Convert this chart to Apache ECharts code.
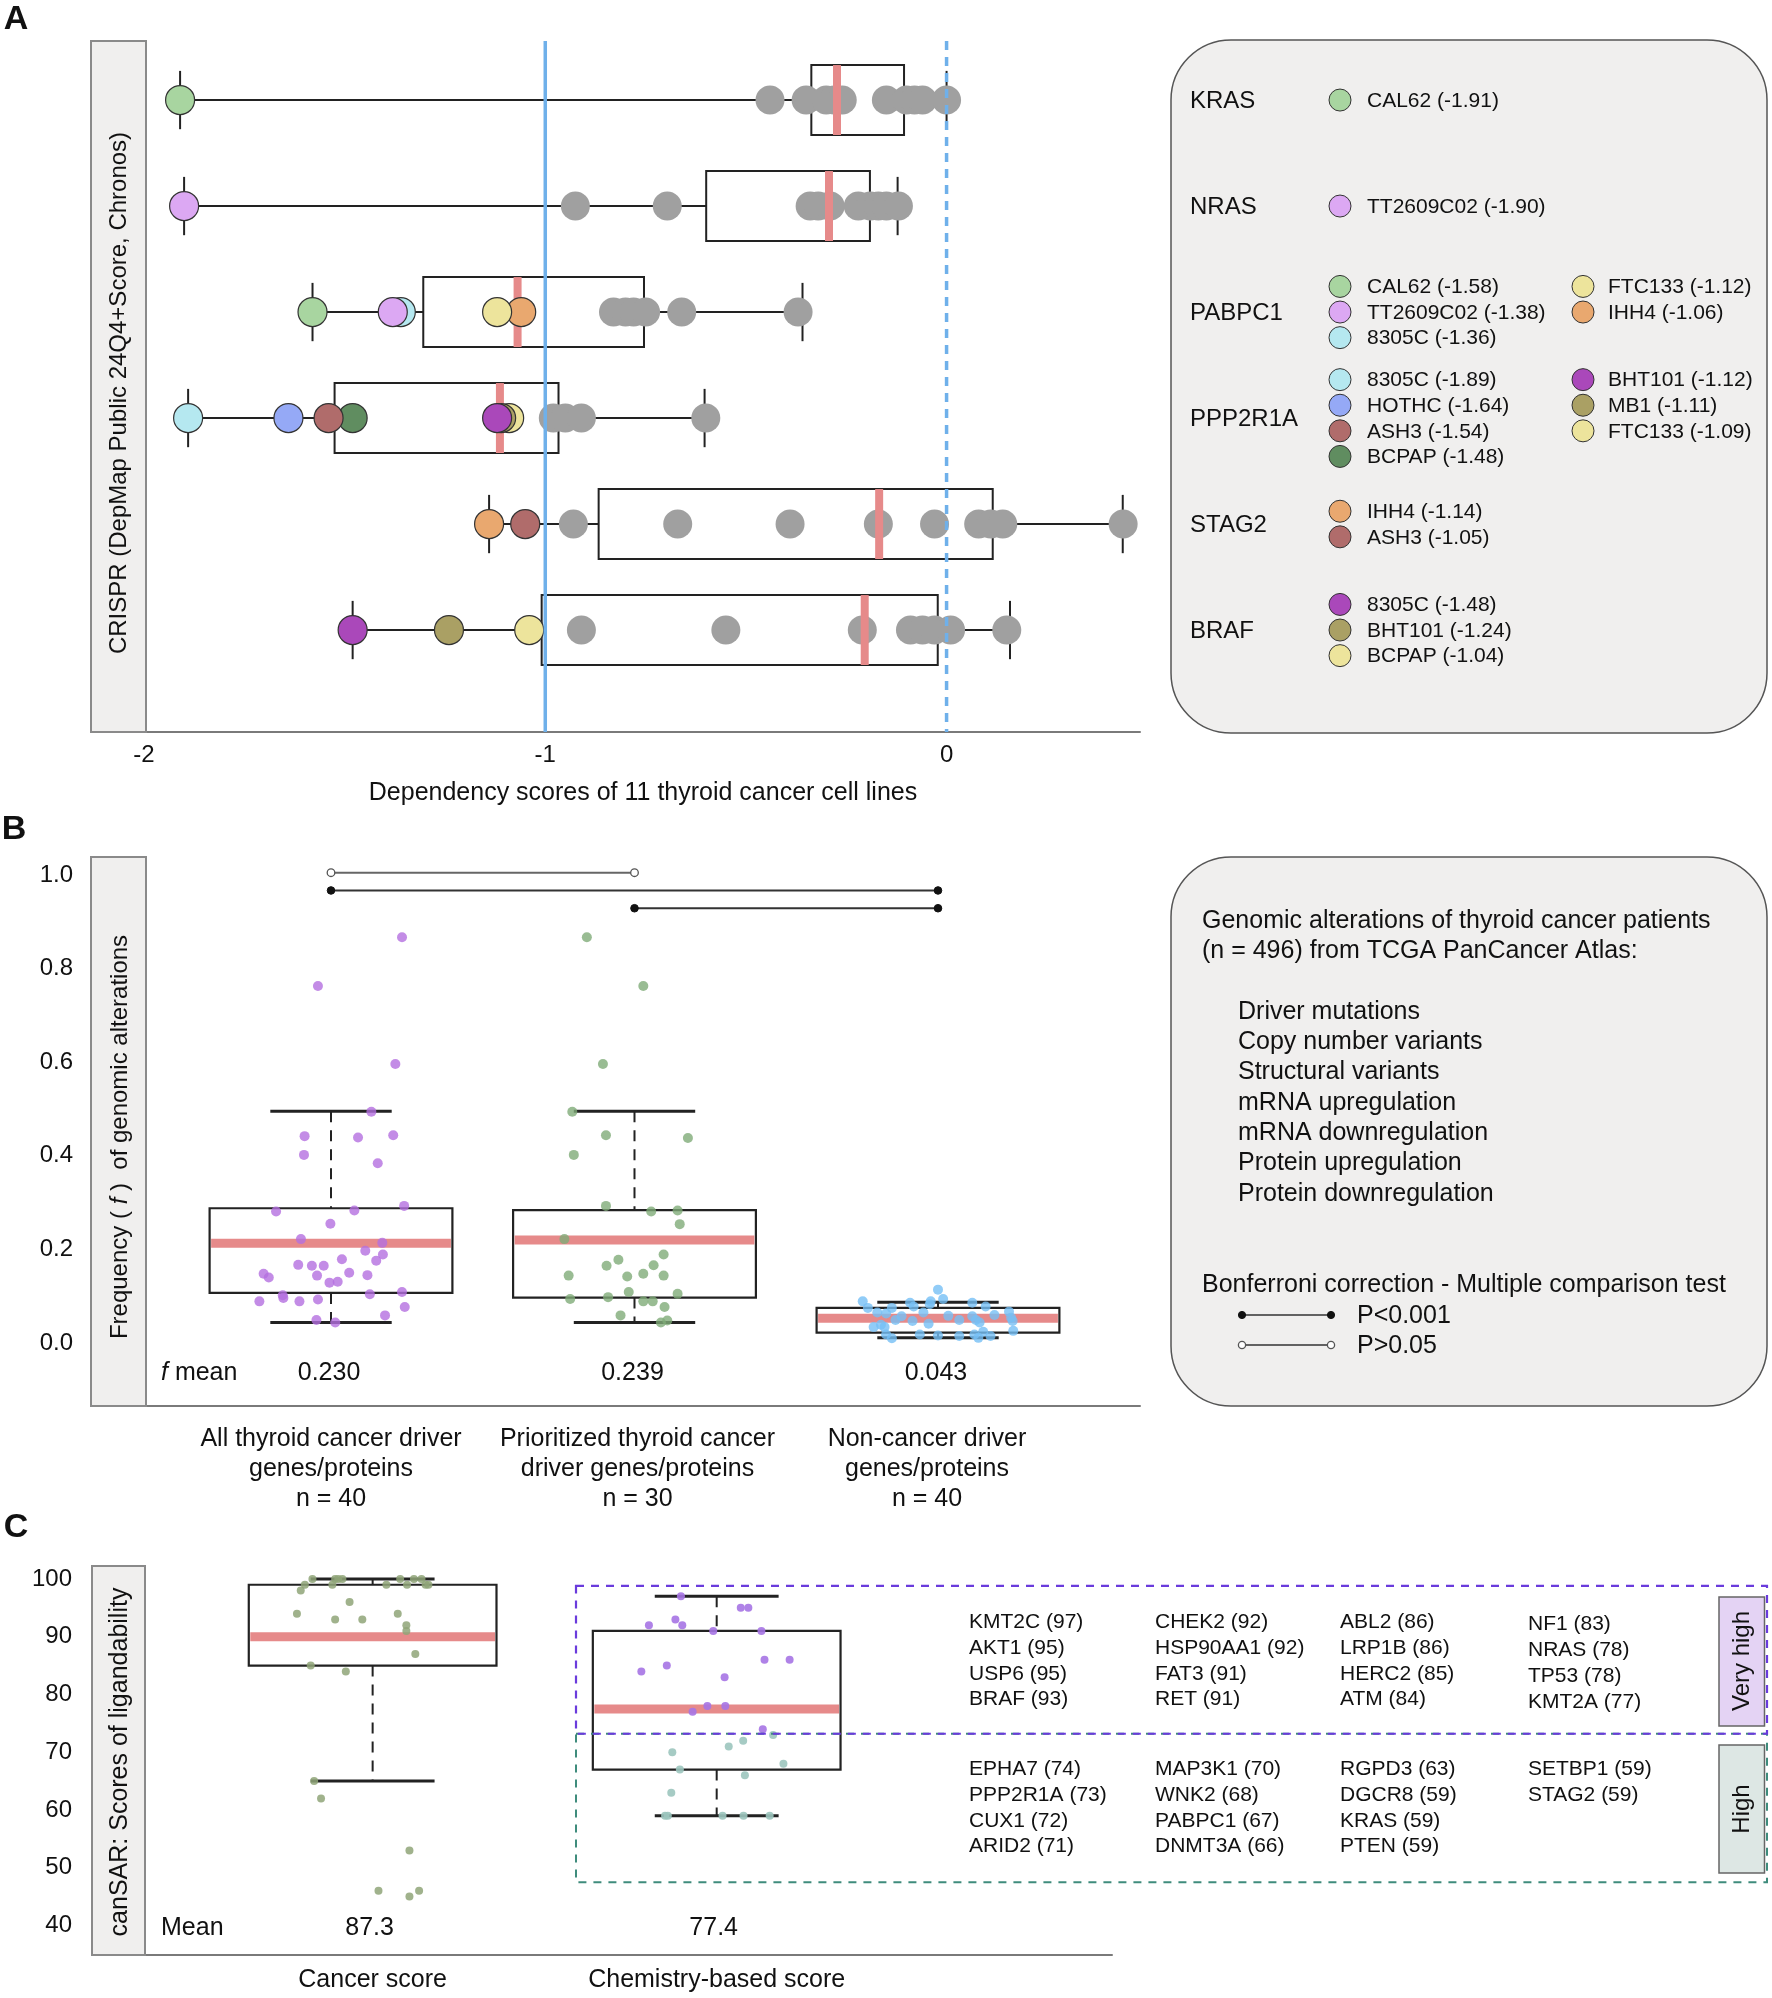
<!DOCTYPE html>
<html><head><meta charset="utf-8">
<script src="https://cdn.jsdelivr.net/npm/echarts@6/dist/echarts.min.js"></script>
<style>html,body{margin:0;padding:0;background:#fff}#c{width:1772px;height:1998px}</style>
</head><body><div id="c"></div><script>
const FONT = '"Liberation Sans", Arial, Helvetica, sans-serif';
const TXT = '#111';

// ---------------- Panel A data ----------------
const genesA = ['KRAS','NRAS','PABPC1','PPP2R1A','STAG2','BRAF'];
const xTicksA = [-2, -1, 0];
// [low whisker, q1, median, q3, high whisker]
const boxA = [
  [-1.91, -0.337, -0.273, -0.106, 0.00],
  [-1.90, -0.599, -0.293, -0.191, -0.122],
  [-1.58, -1.304, -1.069, -0.754, -0.359],
  [-1.89, -1.525, -1.113, -0.967, -0.603],
  [-1.14, -0.867, -0.168, 0.115, 0.439],
  [-1.48, -1.009, -0.204, -0.022, 0.158]
];
const greyA = [
  [-0.44, -0.35, -0.30, -0.28, -0.26, -0.15, -0.10, -0.08, -0.06, 0.00],
  [-0.925, -0.696, -0.34, -0.32, -0.29, -0.22, -0.19, -0.17, -0.15, -0.12],
  [-0.83, -0.80, -0.78, -0.75, -0.66, -0.37],
  [-0.98, -0.95, -0.91, -0.60],
  [-0.93, -0.67, -0.39, -0.17, -0.03, 0.08, 0.11, 0.14, 0.44],
  [-0.91, -0.55, -0.21, -0.09, -0.06, -0.03, 0.01, 0.15]
];
const highlightA = [
  [['CAL62', -1.91]],
  [['TT2609C02', -1.90]],
  [['CAL62', -1.58], ['TT2609C02', -1.38], ['8305C', -1.36], ['FTC133', -1.12], ['IHH4', -1.06]],
  [['8305C', -1.89], ['HOTHC', -1.64], ['ASH3', -1.54], ['BCPAP', -1.48], ['BHT101', -1.12], ['MB1', -1.11], ['FTC133', -1.09]],
  [['IHH4', -1.14], ['ASH3', -1.05]],
  [['8305C', -1.48], ['BHT101', -1.24], ['BCPAP', -1.04]]
];
const refLinesA = [[-1, 'solid'], [0, 'dashed']];
// styles (colours of highlighted cell lines)
const hlColorsA = [
  ['#a8d5a0'],
  ['#dca8f3'],
  ['#a8d5a0', '#dca8f3', '#b5e8f0', '#ede49c', '#e9a86f'],
  ['#b5e8f0', '#95a9f6', '#b06c6b', '#608d60', '#aa48ba', '#aaa064', '#ede49c'],
  ['#e9a86f', '#b06c6b'],
  ['#aa48ba', '#aaa064', '#ede49c']
];

// ---------------- Panel B data ----------------
const catsB = ['All thyroid cancer driver\ngenes/proteins\nn = 40',
               'Prioritized thyroid cancer\ndriver genes/proteins\nn = 30',
               'Non-cancer driver\ngenes/proteins\nn = 40'];
const yTicksB = [0, 0.2, 0.4, 0.6, 0.8, 1.0];
const boxB = [
  [0.044, 0.107, 0.213, 0.288, 0.495],
  [0.044, 0.097, 0.220, 0.284, 0.495],
  [0.011, 0.022, 0.053, 0.075, 0.087]
];
const meanB = ['0.230', '0.239', '0.043'];
// [jitter, frequency]
const ptsB1 = [[0.234,0.867],[-0.043,0.763],[0.212,0.596],[0.133,0.494],[-0.087,0.442],[0.089,0.439],[0.205,0.444],[-0.089,0.402],[0.154,0.384],[-0.181,0.281],[0.077,0.283],[0.241,0.293],[-0.002,0.255],[-0.099,0.222],[0.169,0.214],[0.171,0.189],[0.113,0.197],[0.149,0.176],[0.036,0.179],[-0.108,0.167],[-0.063,0.165],[-0.024,0.165],[-0.222,0.148],[-0.205,0.140],[-0.046,0.144],[0.060,0.150],[0.120,0.145],[-0.005,0.129],[0.022,0.131],[0.234,0.109],[0.128,0.104],[-0.159,0.102],[-0.157,0.096],[-0.236,0.089],[-0.104,0.089],[-0.043,0.093],[0.243,0.077],[0.178,0.059],[-0.048,0.049],[0.014,0.044]];
const ptsB2 = [[-0.157,0.867],[0.029,0.763],[-0.104,0.596],[-0.205,0.494],[-0.094,0.444],[0.176,0.438],[-0.200,0.402],[-0.094,0.293],[0.055,0.281],[0.142,0.283],[0.149,0.254],[-0.231,0.222],[0.096,0.189],[-0.053,0.178],[-0.092,0.165],[0.063,0.166],[-0.217,0.144],[-0.024,0.142],[0.029,0.148],[0.096,0.144],[-0.019,0.109],[0.142,0.105],[-0.212,0.094],[-0.087,0.098],[0.029,0.089],[0.060,0.089],[0.099,0.077],[-0.046,0.059],[0.087,0.044],[0.108,0.048]];
const ptsB3 = [[0.000,0.114],[-0.248,0.089],[-0.092,0.086],[-0.024,0.089],[0.017,0.094],[0.113,0.086],[0.157,0.078],[-0.231,0.075],[-0.152,0.075],[-0.080,0.078],[-0.027,0.083],[-0.200,0.065],[-0.171,0.063],[-0.048,0.065],[0.234,0.067],[0.113,0.057],[0.125,0.049],[-0.140,0.049],[-0.084,0.047],[0.070,0.049],[0.241,0.054],[0.137,0.044],[0.246,0.047],[-0.031,0.041],[-0.188,0.039],[-0.212,0.034],[-0.176,0.034],[0.248,0.026],[-0.171,0.018],[-0.152,0.010],[-0.060,0.018],[0.000,0.016],[0.070,0.015],[0.120,0.018],[0.133,0.011],[0.173,0.015],[0.149,0.024],[-0.120,0.057],[0.034,0.058],[0.186,0.060]];
// [from group, to group, height, significant(1)/not(0)]
const bracketsB = [[1, 2, 1.005, 0], [1, 3, 0.967, 1], [2, 3, 0.929, 1]];
const alterationTypes = ['Driver mutations','Copy number variants','Structural variants','mRNA upregulation','mRNA downregulation','Protein upregulation','Protein downregulation'];

// ---------------- Panel C data ----------------
const catsC = ['Cancer score', 'Chemistry-based score'];
const yTicksC = [40, 50, 60, 70, 80, 90, 100];
const boxC = [
  [65, 85, 90, 99, 100],
  [59, 67, 77.5, 91, 97]
];
const meanC = ['87.3', '77.4'];
const cancerScores = [100,100,100,100,100,100,100, 99,99,99,99,99,99, 98, 96, 94,94, 93,93, 92, 91, 87, 85, 84, 65, 62, 53, 46,46, 45];
const cancerJitter = [-0.175,-0.109,-0.100,-0.088,0.080,0.120,0.142, -0.197,-0.117,0.040,0.100,0.154,0.162, -0.209, -0.067, -0.220,0.073, -0.109,-0.030, 0.098, 0.098, 0.124, -0.180, -0.078, -0.170, -0.150, 0.107, 0.017,0.135, 0.107];
const chemGenes = [['KMT2C',97],['AKT1',95],['USP6',95],['BRAF',93],['CHEK2',92],['HSP90AA1',92],['FAT3',91],['RET',91],
  ['ABL2',86],['LRP1B',86],['HERC2',85],['ATM',84],['NF1',83],['NRAS',78],['TP53',78],['KMT2A',77],
  ['EPHA7',74],['PPP2R1A',73],['CUX1',72],['ARID2',71],['MAP3K1',70],['WNK2',68],['PABPC1',67],['DNMT3A',66],
  ['RGPD3',63],['DGCR8',59],['KRAS',59],['PTEN',59],['SETBP1',59],['STAG2',59]];
const chemJitter = [-0.104,0.070,0.092,-0.120,-0.197,-0.100,-0.010,0.130,0.139,0.212,-0.145,-0.219,0.023,-0.027,0.025,-0.070,
  0.134,0.164,0.077,0.035,-0.129,0.194,-0.107,0.082,-0.132,-0.150,-0.142,0.017,0.078,0.154];
const veryHighCount = 16;
const veryHighRange = [73.2, 98.8];
const highRange = [47.5, 73.2];

// ---------------- chart ----------------
const chart = echarts.init(document.getElementById('c'));

function boxAItem(params, api) {
  const r = api.value(0);
  const lo = api.coord([api.value(1), r]), q1 = api.coord([api.value(2), r]);
  const q3 = api.coord([api.value(4), r]), hi = api.coord([api.value(5), r]);
  const bh = Math.abs(api.size([0, 0.66])[1]), ch = Math.abs(api.size([0, 0.55])[1]);
  const y = lo[1], st = {stroke: '#222', lineWidth: 2};
  return {type: 'group', children: [
    {type: 'line', shape: {x1: lo[0], y1: y, x2: hi[0], y2: y}, style: st},
    {type: 'line', shape: {x1: lo[0], y1: y - ch / 2, x2: lo[0], y2: y + ch / 2}, style: st},
    {type: 'line', shape: {x1: hi[0], y1: y - ch / 2, x2: hi[0], y2: y + ch / 2}, style: st},
    {type: 'rect', shape: {x: q1[0], y: y - bh / 2, width: q3[0] - q1[0], height: bh}, style: {fill: '#fff', stroke: '#222', lineWidth: 2}}
  ]};
}
function medAItem(params, api) {
  const r = api.value(0);
  const m = api.coord([api.value(3), r]);
  const bh = Math.abs(api.size([0, 0.66])[1]);
  return {type: 'rect', shape: {x: m[0] - 4, y: m[1] - bh / 2, width: 8, height: bh}, style: {fill: '#e68a8a'}};
}
function boxVItem(wf, cf) {
  return function (params, api) {
    const c = api.value(0);
    const lo = api.coord([c, api.value(1)]), q1 = api.coord([c, api.value(2)]);
    const q3 = api.coord([c, api.value(4)]), hi = api.coord([c, api.value(5)]);
    const bw = api.size([wf, 0])[0], cw = api.size([cf, 0])[0];
    const x = lo[0];
    const dash = {stroke: '#222', lineWidth: 2, lineDash: [11, 8]};
    const cap = {stroke: '#222', lineWidth: 3};
    return {type: 'group', children: [
      {type: 'line', shape: {x1: x, y1: hi[1], x2: x, y2: q3[1]}, style: dash},
      {type: 'line', shape: {x1: x, y1: q1[1], x2: x, y2: lo[1]}, style: dash},
      {type: 'line', shape: {x1: x - cw / 2, y1: hi[1], x2: x + cw / 2, y2: hi[1]}, style: cap},
      {type: 'line', shape: {x1: x - cw / 2, y1: lo[1], x2: x + cw / 2, y2: lo[1]}, style: cap},
      {type: 'rect', shape: {x: x - bw / 2, y: q3[1], width: bw, height: q1[1] - q3[1]}, style: {fill: '#fff', stroke: '#222', lineWidth: 2.2}}
    ]};
  };
}
function medVItem(wf) {
  return function (params, api) {
    const m = api.coord([api.value(0), api.value(3)]);
    const bw = api.size([wf, 0])[0];
    return {type: 'rect', shape: {x: m[0] - bw / 2 + 1.5, y: m[1] - 4.5, width: bw - 3, height: 9}, style: {fill: '#e68a8a'}};
  };
}

const seriesList = [];
// Panel A
seriesList.push({type: 'custom', xAxisIndex: 0, yAxisIndex: 0, z: 2, silent: true,
  data: boxA.map((b, i) => [i, ...b]), encode: {x: [1, 2, 3, 4, 5], y: 0}, renderItem: boxAItem});
seriesList.push({type: 'scatter', xAxisIndex: 0, yAxisIndex: 0, z: 3, silent: true, symbolSize: 29,
  itemStyle: {color: '#a0a0a0', opacity: 1},
  data: greyA.flatMap((arr, i) => arr.map(v => [v, i]))});
seriesList.push({type: 'custom', xAxisIndex: 0, yAxisIndex: 0, z: 4, silent: true,
  data: boxA.map((b, i) => [i, ...b]), encode: {x: [1, 2, 3, 4, 5], y: 0}, renderItem: medAItem});
seriesList.push({type: 'scatter', xAxisIndex: 0, yAxisIndex: 0, z: 5, silent: true, symbolSize: 29,
  data: highlightA.flatMap((arr, i) => arr.map((p, k) => ({value: [p[1], i], itemStyle: {color: hlColorsA[i][k], borderColor: '#333', borderWidth: 1.2, opacity: 1}})).reverse())});
seriesList.push({type: 'custom', xAxisIndex: 0, yAxisIndex: 0, z: 6, silent: true,
  data: refLinesA.map(d => [d[0], d[1] === 'dashed' ? 1 : 0]), encode: {x: 0},
  renderItem: function (params, api) {
    const cs = params.coordSys;
    const x = api.coord([api.value(0), 0])[0];
    return {type: 'line', shape: {x1: x, y1: cs.y, x2: x, y2: cs.y + cs.height},
      style: {stroke: '#6fb0ea', lineWidth: 3.5, lineDash: api.value(1) ? [9, 7] : null}};
  }});
// Panel B
seriesList.push({type: 'custom', xAxisIndex: 1, yAxisIndex: 1, z: 2, silent: true,
  data: boxB.map((b, i) => [i + 1, ...b]), encode: {x: 0, y: [1, 2, 3, 4, 5]}, renderItem: boxVItem(0.8, 0.4)});
seriesList.push({type: 'custom', xAxisIndex: 1, yAxisIndex: 1, z: 3, silent: true,
  data: boxB.map((b, i) => [i + 1, ...b]), encode: {x: 0, y: [1, 2, 3, 4, 5]}, renderItem: medVItem(0.8)});
[[ptsB1, '#b46fe0'], [ptsB2, '#7fab78'], [ptsB3, '#76bff5']].forEach((p, gi) => {
  seriesList.push({type: 'scatter', xAxisIndex: 1, yAxisIndex: 1, z: 4, silent: true, symbolSize: 10,
    itemStyle: {color: p[1], opacity: 0.8},
    data: p[0].map(d => [gi + 1 + d[0], d[1]])});
});
seriesList.push({type: 'custom', xAxisIndex: 1, yAxisIndex: 1, z: 4, silent: true,
  data: bracketsB, encode: {x: [0, 1], y: 2},
  renderItem: function (params, api) {
    const a = api.coord([api.value(0), api.value(2)]), b = api.coord([api.value(1), api.value(2)]);
    const filled = api.value(3) === 1;
    const cst = filled ? {fill: '#111', stroke: '#111', lineWidth: 1} : {fill: '#fff', stroke: '#555', lineWidth: 1.3};
    return {type: 'group', children: [
      {type: 'line', shape: {x1: a[0], y1: a[1], x2: b[0], y2: b[1]}, style: {stroke: filled ? '#333' : '#666', lineWidth: 2}},
      {type: 'circle', shape: {cx: a[0], cy: a[1], r: 3.8}, style: cst},
      {type: 'circle', shape: {cx: b[0], cy: b[1], r: 3.8}, style: cst}
    ]};
  }});
// Panel C
seriesList.push({type: 'custom', xAxisIndex: 2, yAxisIndex: 2, z: 2, silent: true,
  data: boxC.map((b, i) => [i + 1, ...b]), encode: {x: 0, y: [1, 2, 3, 4, 5]}, renderItem: boxVItem(0.72, 0.36)});
seriesList.push({type: 'custom', xAxisIndex: 2, yAxisIndex: 2, z: 3, silent: true,
  data: boxC.map((b, i) => [i + 1, ...b]), encode: {x: 0, y: [1, 2, 3, 4, 5]}, renderItem: medVItem(0.72)});
seriesList.push({type: 'scatter', xAxisIndex: 2, yAxisIndex: 2, z: 4, silent: true, symbolSize: 8,
  itemStyle: {color: '#8fa578', opacity: 0.85},
  data: cancerScores.map((v, i) => [1 + cancerJitter[i], v])});
seriesList.push({type: 'scatter', xAxisIndex: 2, yAxisIndex: 2, z: 4, silent: true, symbolSize: 8,
  data: chemGenes.map((g, i) => ({value: [2 + chemJitter[i], g[1]], itemStyle: {color: i < veryHighCount + 1 && g[1] > veryHighRange[0] ? '#a674e4' : '#9cc5be', opacity: 0.9}}))});

const axisLineStyle = {show: true, onZero: false, lineStyle: {color: '#7a7a7a', width: 2}};
const hidden = {show: false};
const hiddenLine = {show: false, onZero: false};
const option = {
  animation: false,
  backgroundColor: '#fff',
  textStyle: {fontFamily: FONT},
  grid: [
    {left: 91, top: 41, width: 1049, height: 691},
    {left: 91, top: 857, width: 1049, height: 549},
    {left: 92, top: 1566, width: 1020, height: 389}
  ],
  xAxis: [
    {type: 'value', gridIndex: 0, min: -2.132, max: 0.482, axisLine: axisLineStyle, axisTick: hidden, splitLine: hidden,
      axisLabel: {customValues: xTicksA, fontSize: 24, color: TXT, margin: 11, fontFamily: FONT}},
    {type: 'value', gridIndex: 1, min: 0.2092, max: 3.6656, axisLine: axisLineStyle, axisTick: hidden, splitLine: hidden, axisLabel: hidden},
    {type: 'value', gridIndex: 2, min: 0.1843, max: 3.149, axisLine: axisLineStyle, axisTick: hidden, splitLine: hidden, axisLabel: hidden}
  ],
  yAxis: [
    {type: 'value', gridIndex: 0, inverse: true, min: -0.557, max: 5.962, axisLine: hiddenLine, axisTick: hidden, splitLine: hidden, axisLabel: hidden},
    {type: 'value', gridIndex: 1, min: -0.1346, max: 1.0385, axisLine: hiddenLine, axisTick: hidden, splitLine: hidden,
      axisLabel: {customValues: yTicksB, formatter: v => (+v).toFixed(1), fontSize: 24, color: TXT, margin: 18, fontFamily: FONT}},
    {type: 'value', gridIndex: 2, min: 34.89, max: 102.25, axisLine: hiddenLine, axisTick: hidden, splitLine: hidden,
      axisLabel: {customValues: yTicksC, fontSize: 24, color: TXT, margin: 20, fontFamily: FONT}}
  ],
  series: seriesList
};
chart.setOption(option);

// ---------------- annotations ----------------
const G = [];
function text(x, y, t, o) {
  o = o || {};
  const el = {type: 'text', x: x, y: y, z: o.z || 50, rotation: o.rot || 0,
    style: {text: t, fontSize: o.size || 24, fontFamily: FONT, fontWeight: o.weight || 'normal', fontStyle: o.style || 'normal',
      fill: o.color || TXT, align: o.align || 'left', textAlign: o.align || 'left', verticalAlign: 'middle', textVerticalAlign: 'middle',
      lineHeight: o.lh || undefined, rich: o.rich || undefined}};
  G.push(el);
}
function rect(x, y, w, h, st, r, z) {
  G.push({type: 'rect', z: z || 40, shape: {x: x, y: y, width: w, height: h, r: r || 0}, style: st});
}
const px = (gi, v) => chart.convertToPixel({gridIndex: gi}, v);

// panel letters
text(16, 20, 'A', {size: 34, weight: 'bold', align: 'center'});
text(14, 830, 'B', {size: 34, weight: 'bold', align: 'center'});
text(16, 1528, 'C', {size: 34, weight: 'bold', align: 'center'});

// strips
const stripSt = {fill: '#f0efee', stroke: '#8a8a8a', lineWidth: 2};
rect(91, 41, 55, 691, stripSt);
rect(91, 857, 55, 549, stripSt);
rect(92, 1566, 53, 389, stripSt);
text(119, 393, 'CRISPR (DepMap Public 24Q4+Score, Chronos)', {rot: Math.PI / 2, align: 'center', size: 24});
text(120, 1137, '{a|Frequency ( }{i|f}{a| )  of genomic alterations}', {rot: Math.PI / 2, align: 'center',
  rich: {a: {fontSize: 24, fontFamily: FONT, fill: TXT}, i: {fontSize: 24, fontFamily: FONT, fontStyle: 'italic', fill: TXT}}});
text(120, 1762, 'canSAR: Scores of ligandability', {rot: Math.PI / 2, align: 'center', size: 25});

// Panel A axis title
text(643, 793, 'Dependency scores of 11 thyroid cancer cell lines', {align: 'center', size: 25});

// Panel A legend
const legSt = {fill: '#f0efee', stroke: '#555', lineWidth: 1.5};
rect(1171, 40, 596, 693, legSt, 60, 30);
genesA.forEach((g, i) => {
  const ry = px(0, [0, i])[1];
  text(1190, ry + 1, g, {size: 24});
  const items = highlightA[i];
  const n1 = items.length > 3 ? Math.ceil(items.length / 2) : items.length;
  items.forEach((p, k) => {
    const col = k < n1 ? 0 : 1, kk = col ? k - n1 : k;
    const y = ry + (kk - (n1 - 1) / 2) * 25.6;
    const dx = col ? 1583 : 1340, tx = col ? 1608 : 1367;
    G.push({type: 'circle', z: 45, shape: {cx: dx, cy: y, r: 11}, style: {fill: hlColorsA[i][k], stroke: '#333', lineWidth: 1}});
    text(tx, y + 1, p[0] + ' (' + p[1].toFixed(2) + ')', {size: 21});
  });
});

// Panel B texts
const catLabelShiftB = [0, 3, -11];
text(161, 1373, '{i|f}{a| mean}', {rich: {a: {fontSize: 25, fontFamily: FONT, fill: TXT}, i: {fontSize: 25, fontFamily: FONT, fontStyle: 'italic', fill: TXT}}});
meanB.forEach((m, i) => text(px(1, [i + 1, 0])[0] - 2, 1373, m, {align: 'center', size: 25}));
catsB.forEach((c, i) => text(px(1, [i + 1, 0])[0] + catLabelShiftB[i], 1469, c, {align: 'center', size: 25, lh: 30}));
rect(1171, 857, 596, 549, legSt, 60, 30);
text(1202, 921, 'Genomic alterations of thyroid cancer patients', {size: 25});
text(1202, 951, '(n = 496) from TCGA PanCancer Atlas:', {size: 25});
alterationTypes.forEach((t, i) => text(1238, 1012 + i * 30.3, t, {size: 25}));
text(1202, 1285, 'Bonferroni correction - Multiple comparison test', {size: 25});
[[1315, 1, 'P<0.001'], [1345, 0, 'P>0.05']].forEach(d => {
  const st = d[1] ? {fill: '#111', stroke: '#111', lineWidth: 1} : {fill: '#fff', stroke: '#555', lineWidth: 1.3};
  G.push({type: 'line', z: 45, shape: {x1: 1242, y1: d[0], x2: 1331, y2: d[0]}, style: {stroke: '#333', lineWidth: 1.5}});
  G.push({type: 'circle', z: 46, shape: {cx: 1242, cy: d[0], r: 3.6}, style: st});
  G.push({type: 'circle', z: 46, shape: {cx: 1331, cy: d[0], r: 3.6}, style: st});
  text(1357, d[0] + 1, d[2], {size: 25});
});

// Panel C texts
text(161, 1928, 'Mean', {size: 25});
meanC.forEach((m, i) => text(px(2, [i + 1, 40])[0] - 3, 1928, m, {align: 'center', size: 25}));
catsC.forEach((c, i) => text(px(2, [i + 1, 40])[0], 1980, c, {align: 'center', size: 25}));

// Very high / High region boxes
const yVT = px(2, [1, veryHighRange[1]])[1], yDiv = px(2, [1, veryHighRange[0]])[1], yHB = px(2, [1, highRange[0]])[1];
G.push({type: 'rect', z: 60, shape: {x: 576, y: yDiv, width: 1767 - 576, height: yHB - yDiv}, style: {fill: 'none', stroke: '#3f8c7c', lineWidth: 2, lineDash: [8, 7]}});
G.push({type: 'rect', z: 61, shape: {x: 576, y: yVT, width: 1767 - 576, height: yDiv - yVT}, style: {fill: 'none', stroke: '#6a3bdc', lineWidth: 2.2, lineDash: [8, 7]}});
rect(1719, 1597, 45.5, 129, {fill: '#e4d3f4', stroke: '#666', lineWidth: 1.5}, null, 62);
rect(1719, 1745, 45.5, 128, {fill: '#dde7e4', stroke: '#666', lineWidth: 1.5}, null, 62);
text(1742, 1661, 'Very high', {rot: Math.PI / 2, align: 'center', size: 24, z: 63});
text(1742, 1809, 'High', {rot: Math.PI / 2, align: 'center', size: 24, z: 63});
const colX = [969, 1155, 1340, 1528];
chemGenes.forEach((g, i) => {
  const vh = i < veryHighCount;
  const j = vh ? i : i - veryHighCount;
  const col = Math.floor(j / 4), row = j % 4;
  const y = (vh ? 1622 : 1769) + row * 25.9 + (vh && col === 3 ? 2.5 : 0);
  text(colX[col], y, g[0] + ' (' + g[1] + ')', {size: 21});
});

chart.setOption({graphic: {elements: G}});
</script></body></html>
